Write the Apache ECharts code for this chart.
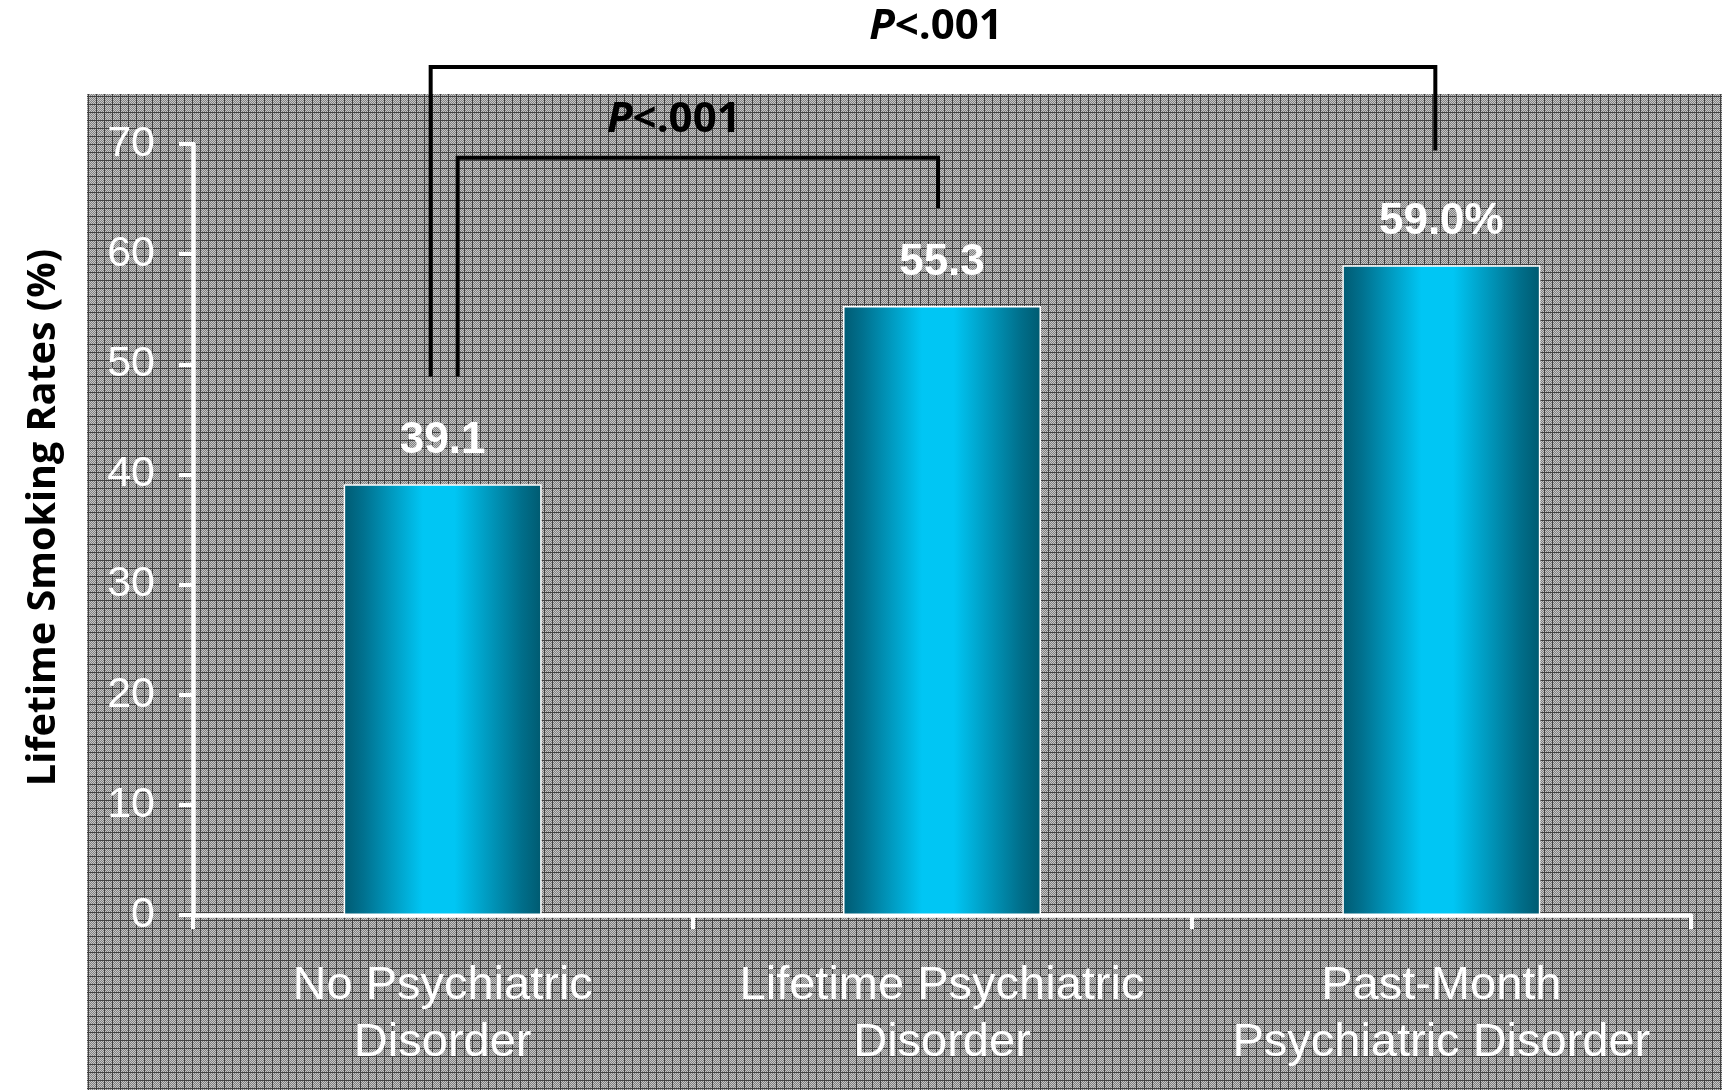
<!DOCTYPE html>
<html>
<head>
<meta charset="utf-8">
<title>Lifetime Smoking Rates by Psychiatric Status</title>
<script src="https://cdn.jsdelivr.net/npm/echarts@6/dist/echarts.min.js"></script>
<style>
  html, body { margin: 0; padding: 0; background: #fff; }
  #chart { width: 1722px; height: 1090px; }
</style>
</head>
<body>
<div id="chart"></div>
<script>
// Groups and lifetime smoking rates (%)
const categories = [
  'No Psychiatric\nDisorder',
  'Lifetime Psychiatric\nDisorder',
  'Past-Month\nPsychiatric Disorder'
];
const smokingRates = [39.1, 55.3, 59.0];
const yTicks = [0, 10, 20, 30, 40, 50, 60, 70];

// Pairwise comparisons: [from group, to group, p-value text]
const comparisons = [
  [0, 1, 'P<.001'],
  [0, 2, 'P<.001']
];

// Bracket geometry (value-axis units and pixel offsets from category centres)
const bracketStyle = [
  { level: 68.75, leftFoot: 48.9, rightFoot: 64.2, leftDx: 15, rightDx: -4, textDx: -24, textLift: 38 },
  { level: 77.0,  leftFoot: 48.9, rightFoot: 69.4, leftDx: -12, rightDx: -6, textDx: 3, textLift: 40 }
];

// Textured grey backdrop tile: light/mid checker with a dark grid every 8px
function makeTile() {
  const c = document.createElement('canvas');
  c.width = 8; c.height = 8;
  const g = c.getContext('2d');
  for (let y = 0; y < 8; y++) {
    for (let x = 0; x < 8; x++) {
      g.fillStyle = ((x + y) % 2 === 0) ? '#c6c6c6' : '#808080';
      g.fillRect(x, y, 1, 1);
    }
  }
  g.fillStyle = '#404040';
  g.fillRect(0, 0, 8, 1);
  g.fillRect(0, 0, 1, 8);
  return c;
}

const chart = echarts.init(document.getElementById('chart'), null, { renderer: 'canvas' });

const sansFont = '"Liberation Sans", Arial, Helvetica, sans-serif';
const titleFont = '"Open Sans", "Liberation Sans", Arial, sans-serif';

const barGradient = new echarts.graphic.LinearGradient(0, 0, 1, 0, [
  { offset: 0.00, color: '#005a72' },
  { offset: 0.10, color: '#00718f' },
  { offset: 0.40, color: '#00c6f4' },
  { offset: 0.56, color: '#00c6f4' },
  { offset: 0.90, color: '#006e8a' },
  { offset: 1.00, color: '#005a70' }
]);

chart.setOption({
  backgroundColor: '#ffffff',
  animation: false,
  graphic: [{
    type: 'rect',
    z: -100,
    silent: true,
    shape: { x: 87, y: 94, width: 1722 - 87, height: 1090 - 94 },
    style: { fill: { image: makeTile(), repeat: 'repeat' } }
  }],
  grid: { left: 193, right: 31, top: 144, bottom: 175, containLabel: false },
  xAxis: {
    type: 'category',
    data: categories,
    axisLine: { show: true, lineStyle: { color: '#ffffff', width: 4.5 } },
    axisTick: { show: true, alignWithLabel: false, length: 14, lineStyle: { color: '#ffffff', width: 4 } },
    axisLabel: {
      color: '#ffffff', fontFamily: sansFont, fontSize: 47, lineHeight: 57,
      margin: 43, interval: 0
    },
    splitLine: { show: false }
  },
  yAxis: {
    type: 'value',
    min: yTicks[0],
    max: yTicks[yTicks.length - 1],
    interval: 10,
    name: 'Lifetime Smoking Rates (%)',
    nameLocation: 'middle',
    nameRotate: 90,
    nameGap: 129,
    nameTextStyle: {
      color: '#000000', fontFamily: titleFont, fontWeight: 'bold', fontSize: 39.5,
      padding: [0, 0, 0, 24]
    },
    axisLine: { show: true, lineStyle: { color: '#ffffff', width: 4.5 } },
    axisTick: { show: true, length: 14, lineStyle: { color: '#ffffff', width: 4 } },
    axisLabel: { color: '#ffffff', fontFamily: sansFont, fontSize: 43, margin: 38 },
    splitLine: { show: false }
  },
  series: [
    {
      type: 'bar',
      data: smokingRates,
      barWidth: 198,
      itemStyle: { color: barGradient, borderColor: '#ffffff', borderWidth: 1.5 },
      label: {
        show: true,
        position: 'top',
        distance: 21,
        color: '#ffffff',
        fontFamily: sansFont,
        fontWeight: 'bold',
        fontSize: 44,
        formatter: p => p.value.toFixed(1) + (p.dataIndex === smokingRates.length - 1 ? '%' : '')
      },
      z: 3
    },
    {
      type: 'custom',
      coordinateSystem: 'cartesian2d',
      clip: false,
      silent: true,
      z: 5,
      data: comparisons,
      encode: { x: 0, y: -1 },
      renderItem: function (params, api) {
        const i = params.dataIndex;
        const from = comparisons[i][0];
        const to = comparisons[i][1];
        const s = bracketStyle[i];
        const pL = api.coord([from, s.leftFoot]);
        const pLt = api.coord([from, s.level]);
        const pR = api.coord([to, s.rightFoot]);
        const xl = pL[0] + s.leftDx;
        const xr = pR[0] + s.rightDx;
        const yTop = pLt[1];
        const txt = comparisons[i][2];
        return {
          type: 'group',
          children: [
            {
              type: 'polyline',
              shape: { points: [[xl, pL[1]], [xl, yTop], [xr, yTop], [xr, pR[1]]] },
              style: { stroke: '#000000', lineWidth: 4, fill: null }
            },
            {
              type: 'text',
              x: (xl + xr) / 2 + s.textDx,
              y: yTop - s.textLift,
              style: {
                text: '{i|' + txt.charAt(0) + '}' + txt.slice(1),
                align: 'center',
                verticalAlign: 'middle',
                fill: '#000000',
                fontFamily: titleFont,
                fontWeight: 'bold',
                fontSize: 42,
                rich: {
                  i: { fontStyle: 'italic', fontWeight: 'bold', fontFamily: titleFont, fontSize: 42, fill: '#000000' }
                }
              }
            }
          ]
        };
      }
    }
  ]
});
</script>
</body>
</html>
